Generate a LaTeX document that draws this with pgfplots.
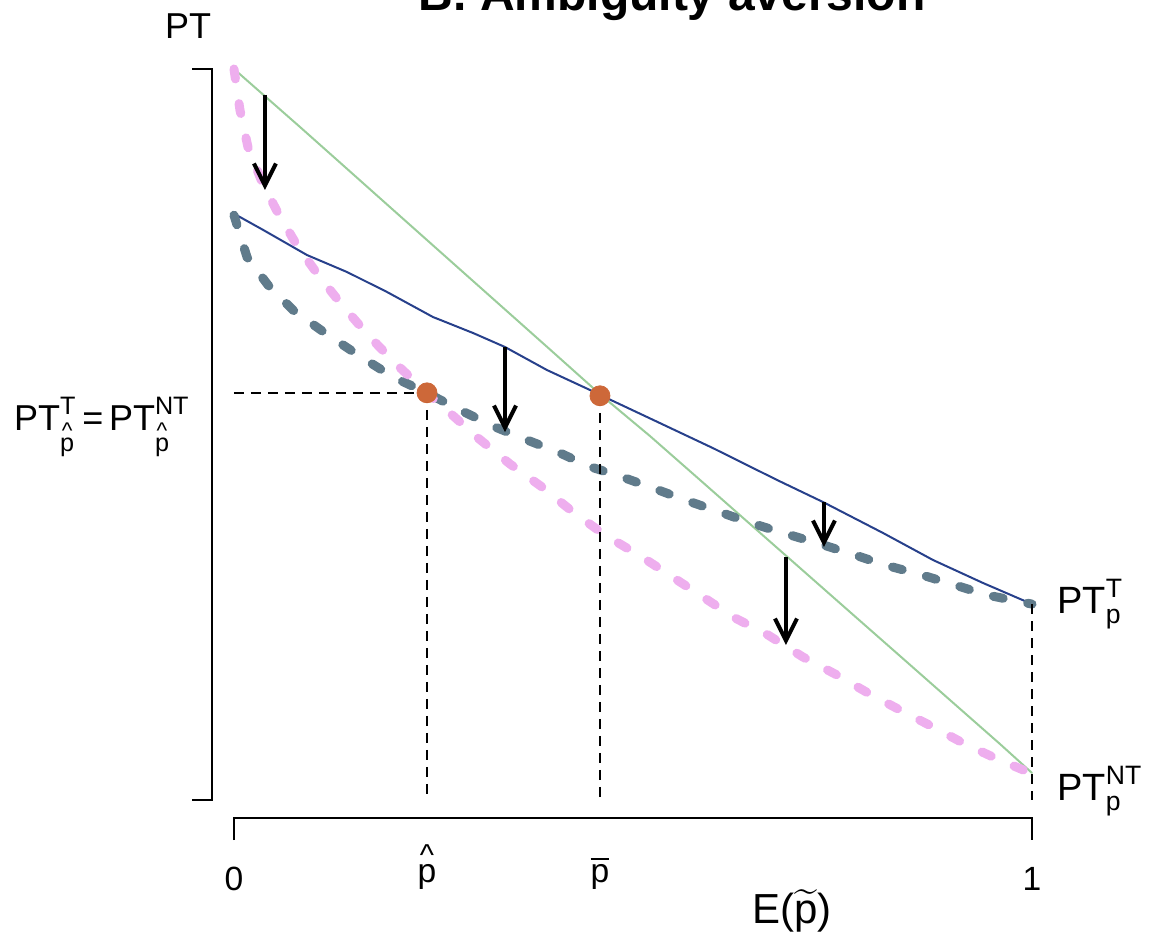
\documentclass[border=0pt]{standalone}
\usepackage{fontspec}
\setmainfont{Liberation Sans}
\usepackage{amsmath}
\usepackage{graphicx}
\usepackage{pgfplots}
\pgfplotsset{compat=1.18}
\usetikzlibrary{arrows.meta}

% line colours
\definecolor{ntcol}{HTML}{9BCD9B}   % PT^NT, no ambiguity
\definecolor{tcol}{HTML}{27408B}    % PT^T, no ambiguity
\definecolor{tamb}{HTML}{607B8B}    % PT^T under ambiguity
\definecolor{ntamb}{HTML}{EEAEEE}   % PT^NT under ambiguity
\definecolor{eqpt}{HTML}{CD6839}    % equilibrium points

\newcommand\fs[1]{\fontsize{#1}{1.2\dimexpr#1\relax}\selectfont}
% p with a caret above it
\newcommand\phat{\text{\ooalign{p\cr\hidewidth\raisebox{0.5em}{\scalebox{0.9}{\textasciicircum}}\hidewidth\cr}}}
% the same, with extra height so that it sits lower as a subscript
\newcommand\phatsub{\text{\rule{0pt}{1.25em}\ooalign{p\cr\hidewidth\raisebox{0.5em}{\scalebox{0.9}{\textasciicircum}}\hidewidth\cr}}}

\begin{document}
\begin{tikzpicture}
\begin{axis}[
  hide axis, scale only axis, clip=false,
  x=399bp, y=365.5bp,
  xmin=-0.2932, xmax=1.1579, ymin=-0.1888, ymax=1.0944,
]
% frame of the picture
\coordinate (bl) at (axis cs:-0.2932,-0.1888);
\coordinate (tr) at (axis cs:1.1579,1.0944);

% PT^NT without ambiguity
\addplot[ntcol, line width=1bp, line cap=round] coordinates {
(0,1.0) (0.0827,0.9207) (0.1454,0.8598) (0.2080,0.7989) (0.2707,0.7380)
(0.3333,0.6772) (0.3960,0.6163) (0.4612,0.5527) (0.5213,0.4979) (0.5840,0.4378)
(0.6466,0.3776) (0.7093,0.3174) (0.7719,0.2572) (0.8346,0.1970) (0.8972,0.1368)
(0.9599,0.0766) (1,0.037)};

% PT^T without ambiguity
\addplot[tcol, line width=1bp, line cap=round] coordinates {
(0,0.802) (0.0075,0.7975) (0.0363,0.780) (0.0915,0.7455) (0.1416,0.7223)
(0.1917,0.695) (0.2494,0.6607) (0.2995,0.6389) (0.3396,0.6197) (0.3922,0.5882)
(0.4461,0.5609) (0.461,0.553) (0.5175,0.524) (0.600,0.4815) (0.6805,0.4378)
(0.738,0.4077) (0.8133,0.3653) (0.876,0.3283) (0.9386,0.2969) (1,0.268)};

% PT^T under ambiguity
\addplot[tamb, line width=4.5bp, line cap=round, dash pattern=on 5bp off 12.5bp] coordinates {
(0,0.800) (0.0163,0.7428) (0.0426,0.7045) (0.0739,0.6703) (0.114,0.6389)
(0.1554,0.6088) (0.1992,0.5787) (0.2419,0.5568) (0.2832,0.5335) (0.3271,0.5103)
(0.3672,0.4925) (0.406,0.476) (0.4436,0.4569) (0.4862,0.4419) (0.525,0.4268)
(0.5652,0.4104) (0.6053,0.3953) (0.6441,0.3803) (0.6842,0.3666) (0.7306,0.3516)
(0.7744,0.3365) (0.8158,0.3215) (0.8622,0.3078) (0.9035,0.2941) (0.9436,0.2804)
(1,0.268)};

% PT^NT under ambiguity
\addplot[ntamb, line width=4.5bp, line cap=round, dash pattern=on 5bp off 12.5bp] coordinates {
(0,1.0) (0.0075,0.9439) (0.0175,0.8933) (0.0351,0.8454) (0.0551,0.803)
(0.0802,0.7565) (0.1065,0.7168) (0.1353,0.6772) (0.1679,0.6361) (0.2018,0.5978)
(0.2419,0.5568) (0.2707,0.5294) (0.3058,0.4952) (0.3459,0.4596) (0.386,0.4282)
(0.4248,0.394) (0.4649,0.3625) (0.5113,0.3324) (0.5877,0.2777) (0.6278,0.249)
(0.6692,0.2257) (0.713,0.1956) (0.7556,0.171) (0.7945,0.1464) (0.8346,0.1231)
(0.876,0.0999) (0.9135,0.078) (0.9536,0.0575) (1,0.036)};

% guide lines
\addplot[black, line width=1bp, dash pattern=on 5bp off 3.5bp] coordinates {(0,0.557) (0.2419,0.557)};
\addplot[black, line width=1bp, dash pattern=on 5bp off 3.5bp] coordinates {(0.2419,0.557) (0.2419,0)};
\addplot[black, line width=1bp, dash pattern=on 5bp off 3.5bp] coordinates {(0.4586,0.553) (0.4586,0)};
\addplot[black, line width=1bp, dash pattern=on 5bp off 3.5bp] coordinates {(1,0.268) (1,0)};

% shifts caused by ambiguity
\addplot[black, line width=2bp, -{Straight Barb[length=11bp,width=11bp]}] coordinates {(0.0388,0.9645) (0.0388,0.8345)};
\addplot[black, line width=2bp, -{Straight Barb[length=11bp,width=11bp]}] coordinates {(0.3396,0.6197) (0.3396,0.5034)};
\addplot[black, line width=2bp, -{Straight Barb[length=11bp,width=11bp]}] coordinates {(0.7393,0.4077) (0.7393,0.3461)};
\addplot[black, line width=2bp, -{Straight Barb[length=11bp,width=11bp]}] coordinates {(0.6917,0.3324) (0.6917,0.212)};

% equilibrium points
\addplot[only marks, mark=*, mark size=5bp, eqpt, mark options={draw=eqpt, fill=eqpt}] coordinates {(0.2419,0.557) (0.4586,0.553)};

% axes
\draw[line width=1bp] (axis cs:-0.0526,1.0) -- (axis cs:-0.0276,1.0) -- (axis cs:-0.0276,0) -- (axis cs:-0.0526,0);
\draw[line width=1bp] (axis cs:0,-0.0547) -- (axis cs:0,-0.0246) -- (axis cs:1,-0.0246) -- (axis cs:1,-0.0547);

% tick labels
\node[anchor=base, font=\fs{16.8bp}] at (axis cs:0,-0.1231) {0};
\node[anchor=base, font=\fs{16.8bp}] at (axis cs:1,-0.1231) {1};
\node[anchor=base, font=\fs{16.8bp}] at (axis cs:0.2419,-0.1122) {$\phat$};
\node[anchor=base, font=\fs{16.8bp}] at (axis cs:0.4586,-0.1122) {$\overline{\text{p}}$};

% axis titles and labels
\node[anchor=base, font=\fs{21bp}] at (axis cs:0.6992,-0.1696) {E($\widetilde{\text{p}}$)};
\node[anchor=base, font=\fs{18bp}] at (axis cs:-0.0576,1.0424) {PT};
\node[anchor=base east, inner sep=0pt, font=\fs{18bp}] at (axis cs:-0.0551,0.506)
  {$\text{PT}^{\text{T}}_{\phatsub}\,\text{=}\,\text{PT}^{\text{NT}}_{\phatsub}$};
\node[anchor=base west, inner sep=0pt, font=\fs{19bp}] at (axis cs:1.0313,0.2558) {$\text{PT}^{\text{T}}_{\text{p}}$};
\node[anchor=base west, inner sep=0pt, font=\fs{19bp}] at (axis cs:1.0313,0.0) {$\text{PT}^{\text{NT}}_{\text{p}}$};

% title
\node[anchor=base, font=\bfseries\fs{24bp}] at (axis cs:0.549,1.0807) {B. Ambiguity aversion};
\end{axis}
\pgfresetboundingbox
\useasboundingbox (bl) rectangle (tr);
\end{tikzpicture}
\end{document}
